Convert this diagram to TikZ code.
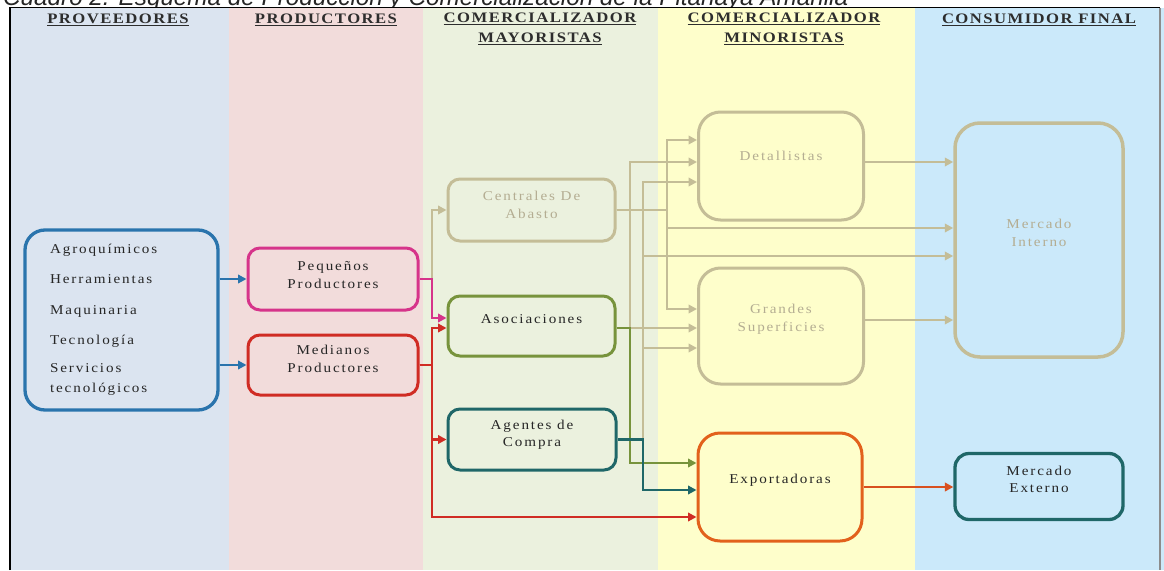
\documentclass[tikz,border=0pt]{standalone}
\usepackage{fontspec}
\usepackage{graphicx}
\setmainfont{Liberation Serif}
\newfontfamily\hdrfont[FakeStretch=1.15,LetterSpace=10]{Liberation Serif}
\newfontfamily\bxfont[FakeStretch=1.12,LetterSpace=14]{Liberation Serif}
\newfontfamily\ttlfont{Liberation Sans}
\usetikzlibrary{arrows.meta,calc}
\definecolor{bgProv}{RGB}{219,228,240}
\definecolor{bgProd}{RGB}{242,220,219}
\definecolor{bgMay}{RGB}{235,241,222}
\definecolor{bgMin}{RGB}{254,254,203}
\definecolor{bgCons}{RGB}{203,233,250}
\definecolor{cBlue}{RGB}{42,116,173}
\definecolor{cMag}{RGB}{214,52,138}
\definecolor{cRed}{RGB}{208,44,36}
\definecolor{cTan}{RGB}{196,189,151}
\definecolor{cTanTxt}{RGB}{180,173,146}
\definecolor{cGreen}{RGB}{119,147,60}
\definecolor{cTeal}{RGB}{31,103,104}
\definecolor{cOrange}{RGB}{226,97,28}
\definecolor{cOrArr}{RGB}{216,80,31}
\definecolor{cHdr}{RGB}{45,45,45}
\begin{document}
\begin{tikzpicture}[x=1pt,y=-1pt,
  hdr/.style={font=\hdrfont\bfseries\fontsize{14.5}{20}\selectfont, text=cHdr, align=center, inner sep=0pt},
  box/.style={draw, rounded corners=12pt, line width=3pt, inner sep=0pt},
  lbl/.style={font=\bxfont\fontsize{13.5}{17.5}\selectfont, align=center, inner sep=0pt, text=black!85},
  lblfade/.style={lbl, text=cTanTxt},
  conn/.style={line width=2.7pt, -{Triangle[length=8.5pt,width=8.5pt]}}
]
\useasboundingbox (0,0) rectangle (1164,570);
\clip (0,0) rectangle (1164,570);
\fill[white] (0,0) rectangle (1164,570);
% title (cut at top)
\node[anchor=base west, inner sep=0pt, text=black!85] (ttl) at (3,5.5)
  {\resizebox{845pt}{!}{\ttlfont\itshape\fontsize{24}{28}\selectfont Cuadro 2. Esquema de Producción y Comercialización de la Pitahaya Amarilla}};
% bands
\fill[bgProv] (9,8) rectangle (229,570);
\fill[bgProd] (229,8) rectangle (423,570);
\fill[bgMay] (423,8) rectangle (658,570);
\fill[bgMin] (658,8) rectangle (915,570);
\fill[bgCons] (915,8) rectangle (1164,570);
\draw[black, line width=1.4pt] (10,570) -- (10,7.5) -- (1160,7.5);
\draw[black!45, line width=1.3pt] (1160,7.5) -- (1160,570);
% headers
\node[hdr] (h1) at (118,20) {\underline{PROVEEDORES}};
\node[hdr] (h2) at (326,20) {\underline{PRODUCTORES}};
\node[hdr] (h3) at (540,29) {\underline{COMERCIALIZADOR}\\\underline{MAYORISTAS}};
\node[hdr] (h4) at (784,29) {\underline{COMERCIALIZADOR}\\\underline{MINORISTAS}};
\node[hdr] (h5) at (1039,20) {\underline{CONSUMIDOR FINAL}};
% boxes
\node[box, draw=cBlue, rounded corners=20pt, line width=3.3pt, minimum width=193pt, minimum height=180pt,
  text width=143pt, align=left, font=\bxfont\fontsize{13.5}{20}\selectfont, text=black!85] (prov) at (121.5,320)
  {Agroquímicos\\[10pt]Herramientas\\[11pt]Maquinaria\\[10pt]Tecnología\\[8pt]Servicios\\tecnológicos};
\node[box, draw=cMag, minimum width=170pt, minimum height=62pt,
  label={[lbl, yshift=4pt]center:{Pequeños\\Productores}}] (peq) at (333,279) {};
\node[box, draw=cRed, minimum width=170pt, minimum height=60pt,
  label={[lbl, yshift=6pt]center:{Medianos\\Productores}}] (med) at (333,365) {};
\node[box, draw=cTan, minimum width=167pt, minimum height=62pt,
  label={[lblfade, yshift=5pt]center:{Centrales De\\Abasto}}] (cen) at (531.5,210) {};
\node[box, draw=cGreen, minimum width=167pt, minimum height=60pt,
  label={[lbl, yshift=7pt]center:{Asociaciones}}] (aso) at (531.5,326) {};
\node[box, draw=cTeal, minimum width=168pt, minimum height=61pt,
  label={[lbl, yshift=5pt]center:{Agentes de\\Compra}}] (age) at (532,439.5) {};
\node[box, draw=cTan, rounded corners=22pt, minimum width=165pt, minimum height=108pt,
  label={[lblfade, yshift=10pt]center:{Detallistas}}] (det) at (781,166) {};
\node[box, draw=cTan, rounded corners=22pt, minimum width=165pt, minimum height=116pt,
  label={[lblfade, yshift=7pt]center:{Grandes\\Superficies}}] (gra) at (781,326) {};
\node[box, draw=cOrange, rounded corners=22pt, minimum width=164pt, minimum height=108pt,
  label={[lbl, yshift=7pt]center:{Exportadoras}}] (exp) at (780,487) {};
\node[box, draw=cTan, rounded corners=25pt, line width=3.5pt, minimum width=168pt, minimum height=234pt,
  label={[lblfade, yshift=7pt]center:{Mercado\\Interno}}] (mint) at (1039,240) {};
\node[box, draw=cTeal, rounded corners=14pt, line width=3.3pt, minimum width=168pt, minimum height=66pt,
  label={[lbl, yshift=7pt]center:{Mercado\\Externo}}] (mext) at (1039,486.5) {};
% bus coordinates
\coordinate (b432) at (432,0);
\coordinate (b630) at (630,0);
\coordinate (b643) at (643,0);
\coordinate (b667) at (667,0);
% entry / exit points
\coordinate (asoIn1) at ($(aso.west)+(0,-8)$);
\coordinate (asoIn2) at ($(aso.west)+(0,2)$);
\coordinate (asoOut) at ($(aso.east)+(0,2)$);
\coordinate (expIn1) at ($(exp.west)+(0,-24)$);
\coordinate (expIn2) at ($(exp.west)+(0,3)$);
\coordinate (expIn3) at ($(exp.west)+(0,30)$);
\coordinate (detIn1) at ($(det.west)+(0,-26)$);
\coordinate (detIn2) at ($(det.west)+(0,-4)$);
\coordinate (detIn3) at ($(det.west)+(0,16)$);
\coordinate (detOut) at ($(det.east)+(0,-4)$);
\coordinate (graIn1) at ($(gra.west)+(0,-17)$);
\coordinate (graIn2) at ($(gra.west)+(0,2)$);
\coordinate (graIn3) at ($(gra.west)+(0,22)$);
\coordinate (graOut) at ($(gra.east)+(0,-6)$);
\coordinate (mintIn2) at ($(mint.west)+(0,-12)$);
\coordinate (mintIn3) at ($(mint.west)+(0,16)$);
% tan connectors
\draw[conn, cTan] (peq.east) -| (b432 |- cen.west) -- (cen.west);
\draw[conn, cTan] (cen.east) -| (b667 |- detIn1) -- (detIn1);
\draw[conn, cTan] (cen.east) -| (b667 |- mintIn2) -- (mintIn2 -| mint.west);
\draw[conn, cTan] (cen.east) -| (b667 |- graIn1) -- (graIn1);
\draw[conn, cTan] (asoOut) -| (b630 |- detIn2) -- (detIn2);
\draw[conn, cTan] (asoOut) -- (graIn2);
\draw[conn, cTan] (age.east) -| (b643 |- detIn3) -- (detIn3);
\draw[conn, cTan] (age.east) -| (b643 |- mintIn3) -- (mintIn3 -| mint.west);
\draw[conn, cTan] (age.east) -| (b643 |- graIn3) -- (graIn3);
\draw[conn, cTan] (detOut) -- (detOut -| mint.west);
\draw[conn, cTan] (graOut) -- (graOut -| mint.west);
% coloured connectors
\draw[conn, cBlue] (prov.east |- peq.west) -- (peq.west);
\draw[conn, cBlue] (prov.east |- med.west) -- (med.west);
\draw[conn, cMag] (peq.east) -| (b432 |- asoIn1) -- (asoIn1);
\draw[conn, cRed] (med.east) -| (b432 |- asoIn2) -- (asoIn2);
\draw[conn, cRed] (med.east) -| (b432 |- age.west) -- (age.west);
\draw[conn, cRed] (med.east) -| (b432 |- expIn3) -- (expIn3);
\draw[conn, cGreen] (asoOut) -| (b630 |- expIn1) -- (expIn1);
\draw[conn, cTeal] (age.east) -| (b643 |- expIn2) -- (expIn2);
\draw[conn, cOrArr] (exp.east) -- (exp.east -| mext.west);
\end{tikzpicture}
\end{document}
